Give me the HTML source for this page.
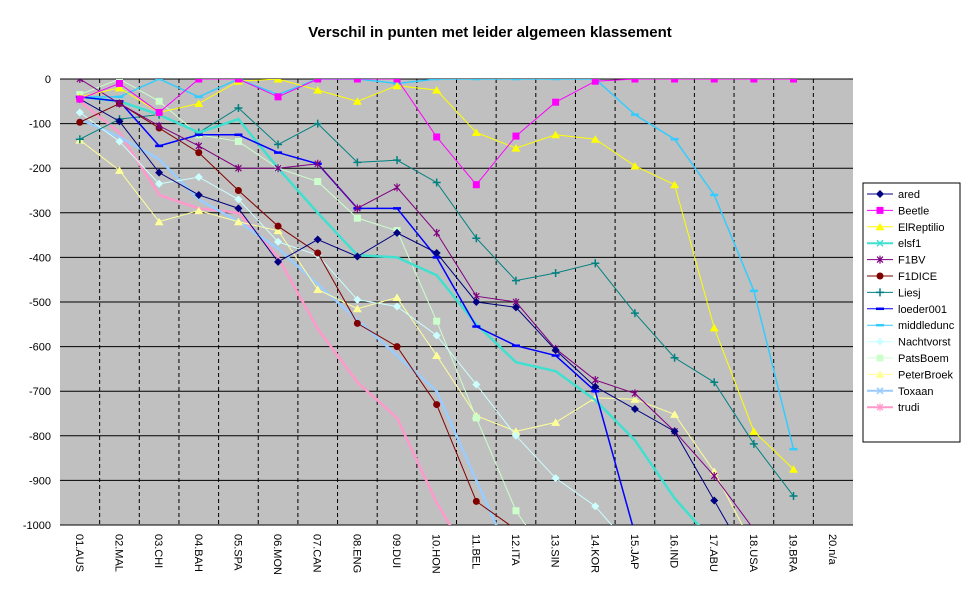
<!DOCTYPE html>
<html><head><meta charset="utf-8"><style>
body{margin:0;background:#fff;font-family:"Liberation Sans",Arial,sans-serif}
</style></head><body>
<svg id="c" width="977" height="600" xmlns="http://www.w3.org/2000/svg" font-family="Liberation Sans, Arial, sans-serif">
<rect width="977" height="600" fill="#fff"/>
<text x="490" y="37" text-anchor="middle" font-size="15" font-weight="bold">Verschil in punten met leider algemeen klassement</text>
<defs><clipPath id="pc"><rect x="60" y="79" width="793" height="446"/></clipPath></defs>
<rect x="60" y="79" width="793" height="446" fill="#c0c0c0"/>
<g id="grid"></g>
<g id="series" clip-path="url(#pc)"></g>
<g id="axes"></g>
<g id="legend"></g>
</svg>
<script>
const categories=["01.AUS","02.MAL","03.CHI","04.BAH","05.SPA","06.MON","07.CAN","08.ENG","09.DUI","10.HON","11.BEL","12.ITA","13.SIN","14.KOR","15.JAP","16.IND","17.ABU","18.USA","19.BRA","20.n/a"];
const yTicks=[0,-100,-200,-300,-400,-500,-600,-700,-800,-900,-1000];
const seriesNames=["ared","Beetle","ElReptilio","elsf1","F1BV","F1DICE","Liesj","loeder001","middledunc","Nachtvorst","PatsBoem","PeterBroek","Toxaan","trudi"];
const ared=[-45,-95,-210,-260,-290,-410,-360,-398,-345,-390,-500,-512,-608,-690,-740,-790,-945,-1100];
const Beetle=[-45,-10,-75,0,0,-40,0,0,0,-130,-237,-128,-52,-5,0,0,0,0,0];
const ElReptilio=[-40,-20,-75,-55,-5,0,-25,-50,-15,-25,-120,-155,-125,-135,-195,-237,-558,-790,-875];
const elsf1=[-40,-50,-80,-120,-90,-200,-300,-395,-400,-440,-550,-635,-655,-720,-810,-940,-1040,-1150];
const F1BV=[0,-55,-105,-150,-200,-200,-190,-290,-243,-345,-487,-500,-605,-675,-705,-790,-890,-1010];
const F1DICE=[-97,-55,-110,-165,-250,-330,-390,-548,-600,-730,-947,-1010];
const Liesj=[-135,-90,-80,-120,-65,-147,-100,-187,-182,-232,-357,-452,-435,-413,-525,-625,-680,-818,-935];
const loeder001=[-40,-50,-150,-125,-125,-165,-190,-290,-290,-400,-555,-598,-620,-700,-1020];
const middledunc=[-40,-40,0,-40,0,-35,0,0,-10,0,0,0,0,0,-80,-135,-260,-475,-830];
const Nachtvorst=[-75,-140,-235,-220,-270,-365,-395,-495,-510,-575,-685,-800,-895,-958,-1060];
const PatsBoem=[-35,0,-50,-125,-140,-200,-230,-312,-340,-543,-760,-968,-1100];
const PeterBroek=[-137,-205,-320,-295,-320,-340,-472,-515,-490,-620,-755,-790,-770,-715,-718,-752,-880,-1050];
const Toxaan=[-90,-130,-180,-270,-320,-380,-460,-540,-620,-700,-900,-1100];
const trudi=[-50,-120,-260,-290,-300,-400,-560,-680,-760,-950,-1100];

const data=[ared,Beetle,ElReptilio,elsf1,F1BV,F1DICE,Liesj,loeder001,middledunc,Nachtvorst,PatsBoem,PeterBroek,Toxaan,trudi];
const colors=["#000080","#ff00ff","#ffff00","#40e0d0","#800080","#800000","#008080","#0000ff","#33ccff","#ccffff","#ccffcc","#ffff99","#99ccff","#ff99cc"];
const markers=["diamond","square","triangle","x","star","circle","plus","dash","dash","diamond","square","triangle","x","star"];
const widths=[1,1,1,2.5,1,1,1,1.5,1.5,1,1,1,2.5,2.5];
const NS="http://www.w3.org/2000/svg";
const L=60,T=79,W=793,H=446,N=20;
const x=i=>L+(i+0.5)*W/N;
const y=v=>T+(-v)/1000*H;
function mk(t,a){const e=document.createElementNS(NS,t);for(const k in a)e.setAttribute(k,a[k]);return e;}
const grid=document.getElementById('grid'),axes=document.getElementById('axes'),ser=document.getElementById('series'),leg=document.getElementById('legend');
yTicks.forEach(t=>{
 const l=mk('line',{x1:L,x2:L+W,y1:y(t),y2:y(t),stroke:'#000','stroke-width':1});
 
 
 grid.appendChild(l);
 const tx=mk('text',{x:L-9,y:y(t)+4,'text-anchor':'end','font-size':11});
 tx.textContent=t;
 
 
 axes.appendChild(tx);
});
for(let i=1;i<N;i++){
 const l=mk('line',{x1:L+i*W/N,x2:L+i*W/N,y1:T,y2:T+H,stroke:'#000','stroke-dasharray':'4,3','stroke-width':1});
 
 
 grid.appendChild(l);
}
categories.forEach((c,i)=>{
 const tx=mk('text',{transform:`translate(${x(i)-4},${T+H+9}) rotate(90)`,'font-size':11});
 tx.textContent=c;
 
 
 axes.appendChild(tx);
});
function marker(g,type,cx,cy,col){
 let e;
 if(type==='diamond')e=mk('path',{d:`M${cx},${cy-4}L${cx+4},${cy}L${cx},${cy+4}L${cx-4},${cy}Z`,fill:col});
 else if(type==='square')e=mk('rect',{x:cx-3.5,y:cy-3.5,width:7,height:7,fill:col});
 else if(type==='triangle')e=mk('path',{d:`M${cx},${cy-4}L${cx+4.5},${cy+3.5}L${cx-4.5},${cy+3.5}Z`,fill:col});
 else if(type==='circle')e=mk('circle',{cx,cy,r:3.5,fill:col});
 else if(type==='dash')e=mk('path',{d:`M${cx-4},${cy}H${cx+4}`,stroke:col,'stroke-width':2.5});
 else if(type==='plus')e=mk('path',{d:`M${cx-4},${cy}H${cx+4}M${cx},${cy-4}V${cy+4}`,stroke:col,'stroke-width':1.5});
 else if(type==='x')e=mk('path',{d:`M${cx-3},${cy-3}L${cx+3},${cy+3}M${cx+3},${cy-3}L${cx-3},${cy+3}`,stroke:col,'stroke-width':1.5});
 else e=mk('path',{d:`M${cx-3},${cy-3}L${cx+3},${cy+3}M${cx+3},${cy-3}L${cx-3},${cy+3}M${cx},${cy-4}V${cy+4}`,stroke:col,'stroke-width':1.2});
 
 
 g.appendChild(e);
}
const order=[13,12,11,10,9,8,6,3,7,5,4,2,0,1];
order.forEach(s=>{
 const vals=data[s];
 const g=mk('g',{});
 
 
 const pts=vals.map((v,i)=>x(i)+','+y(v)).join(' ');
 const pl=mk('polyline',{points:pts,fill:'none',stroke:colors[s],'stroke-width':widths[s]});
 
 
 g.appendChild(pl);
 if(widths[s]<2) vals.forEach((v,i)=>marker(g,markers[s],x(i),y(v),colors[s]));
 ser.appendChild(g);
});
const lb=mk('rect',{x:863,y:183,width:97,height:259,fill:'#fff',stroke:'#000'});


leg.appendChild(lb);
seriesNames.forEach((n,i)=>{
 const yy=194+i*16.4;
 const g=mk('g',{});
 
 
 g.appendChild(mk('line',{x1:867,x2:893,y1:yy,y2:yy,stroke:colors[i],'stroke-width':widths[i]>2?2:1}));
 marker(g,markers[i],880,yy,colors[i]);
 const t=mk('text',{x:898,y:yy+4,'font-size':11});
 t.textContent=n;
 g.appendChild(t);
 leg.appendChild(g);
});
</script>
</body></html>
